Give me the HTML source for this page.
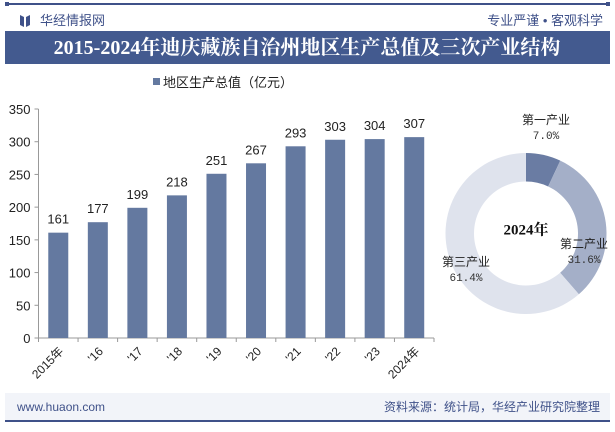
<!DOCTYPE html>
<html><head><meta charset="utf-8"><style>
body{margin:0;width:615px;height:427px;background:#fff;overflow:hidden;font-family:"Liberation Sans","Noto Sans CJK SC",sans-serif}
</style></head><body>
<svg width="615" height="427" viewBox="0 0 615 427" xmlns="http://www.w3.org/2000/svg">
<rect x="5" y="3" width="605" height="2" fill="#3f5189"/>
<rect x="5" y="2" width="4" height="4" fill="#3f5189"/><rect x="606" y="2" width="4" height="4" fill="#3f5189"/>
<g><path d="M20 15 L24 17 L24 27 L20 25 Z" fill="#3f5189"/><path d="M30 15 L26 17 L26 27 L30 25 Z" fill="#3f5189"/></g>
<text x="40" y="25" font-size="13" fill="#3f5189">华经情报网</text>
<text x="603" y="25" font-size="13" fill="#3f5189" text-anchor="end">专业严谨 • 客观科学</text>
<rect x="5" y="31" width="605" height="33" fill="#435a8f"/>
<text x="307" y="54" font-size="20" font-weight="bold" fill="#fff" text-anchor="middle" font-family="Liberation Serif,'Noto Serif CJK SC',serif">2015-2024年迪庆藏族自治州地区生产总值及三次产业结构</text>
<rect x="153" y="78" width="7" height="7" fill="#6479a0"/>
<text x="163" y="87" font-size="13" fill="#222">地区生产总值（亿元）</text>
<g id="axes"></g><g id="bars"></g><g id="pie"></g>
<rect x="5" y="393" width="605" height="27" fill="#f2f4f9"/>
<text x="17" y="411" font-size="12" fill="#3f5189">www.huaon.com</text>
<text x="600" y="411" font-size="12" fill="#3f5189" text-anchor="end">资料来源：统计局，华经产业研究院整理</text>
<rect x="5" y="420" width="605" height="2" fill="#3f5189"/>
</svg>
<script>
const categories=["2015年","'16","'17","'18","'19","'20","'21","'22","'23","2024年"];
const gdpValues=[161,177,199,218,251,267,293,303,304,307];
const yTicks=[0,50,100,150,200,250,300,350];
const pieLabels=["第一产业","第二产业","第三产业"];
const pieValues=[7.0,31.6,61.4];
const pieColors=["#6a7ca3","#a4afc8","#dfe3ed"];
const NS="http://www.w3.org/2000/svg";
function mk(t,a,p,txt){const e=document.createElementNS(NS,t);for(const k in a)e.setAttribute(k,a[k]);if(txt!=null)e.textContent=txt;p.appendChild(e);return e;}
const x0=38.5,x1=434,yBase=338,yTop=109,yMax=350;
const y=v=>yBase-(v/yMax)*(yBase-yTop);
const step=(x1-x0)/categories.length;
const xc=i=>x0+step*(i+0.5);
const ax=document.getElementById('axes'),bg=document.getElementById('bars'),pg=document.getElementById('pie');
let l=mk('line',{x1:x0,y1:yTop,x2:x0,y2:yBase,stroke:'#999'},ax);

l=mk('line',{x1:x0,y1:yBase,x2:x1,y2:yBase,stroke:'#999'},ax);

yTicks.forEach(v=>{mk('line',{x1:x0-4,y1:y(v),x2:x0,y2:y(v),stroke:'#999'},ax);
const t=mk('text',{x:x0-8,y:y(v)+5,'font-size':13,fill:'#222','text-anchor':'end'},ax,v);
});
for(let i=0;i<=categories.length;i++)mk('line',{x1:x0+step*i,y1:yBase,x2:x0+step*i,y2:yBase+4,stroke:'#999'},ax);
categories.forEach((c,i)=>{const cx=xc(i);
const r=mk('rect',{x:cx-10,y:y(gdpValues[i]),width:20,height:yBase-y(gdpValues[i]),fill:'#6479a0'},bg);

const vt=mk('text',{x:cx,y:y(gdpValues[i])-9,'font-size':13,fill:'#222','text-anchor':'middle'},bg,gdpValues[i]);

const tl=mk('text',{x:cx+6,y:yBase+14,'font-size':12,fill:'#222','text-anchor':'end',transform:`rotate(-45 ${cx+6} ${yBase+14})`},ax,c);
});
const pcx=526,pcy=233.5,R=80.5,r0=52;
const tot=pieValues.reduce((a,b)=>a+b,0);let a0=-Math.PI/2;
const lp=[[546,124,546,139],[584,248,584,263],[466,266,466,281]];
pieValues.forEach((v,i)=>{const a1=a0+v/tot*2*Math.PI,lg=(a1-a0)>Math.PI?1:0;
const P=(r,a)=>[pcx+r*Math.cos(a),pcy+r*Math.sin(a)];
const [ax0,ay0]=P(R,a0),[ax1,ay1]=P(R,a1),[bx1,by1]=P(r0,a1),[bx0,by0]=P(r0,a0);
const s=mk('path',{d:`M${ax0} ${ay0}A${R} ${R} 0 ${lg} 1 ${ax1} ${ay1}L${bx1} ${by1}A${r0} ${r0} 0 ${lg} 0 ${bx0} ${by0}Z`,fill:pieColors[i]},pg);

const t1=mk('text',{x:lp[i][0],y:lp[i][1],'font-size':12,fill:'#222','text-anchor':'middle'},pg,pieLabels[i]);

const t2=mk('text',{x:lp[i][2],y:lp[i][3],'font-size':11,fill:'#333','text-anchor':'middle','font-family':'Liberation Mono,monospace'},pg,v.toFixed(1)+'%');

a0=a1;});
const ct=mk('text',{x:pcx,y:pcy+1,'font-size':15,'font-weight':'bold',fill:'#111','text-anchor':'middle','font-family':'Liberation Serif,"Noto Serif CJK SC",serif'},pg,'2024年');

</script>
</body></html>
